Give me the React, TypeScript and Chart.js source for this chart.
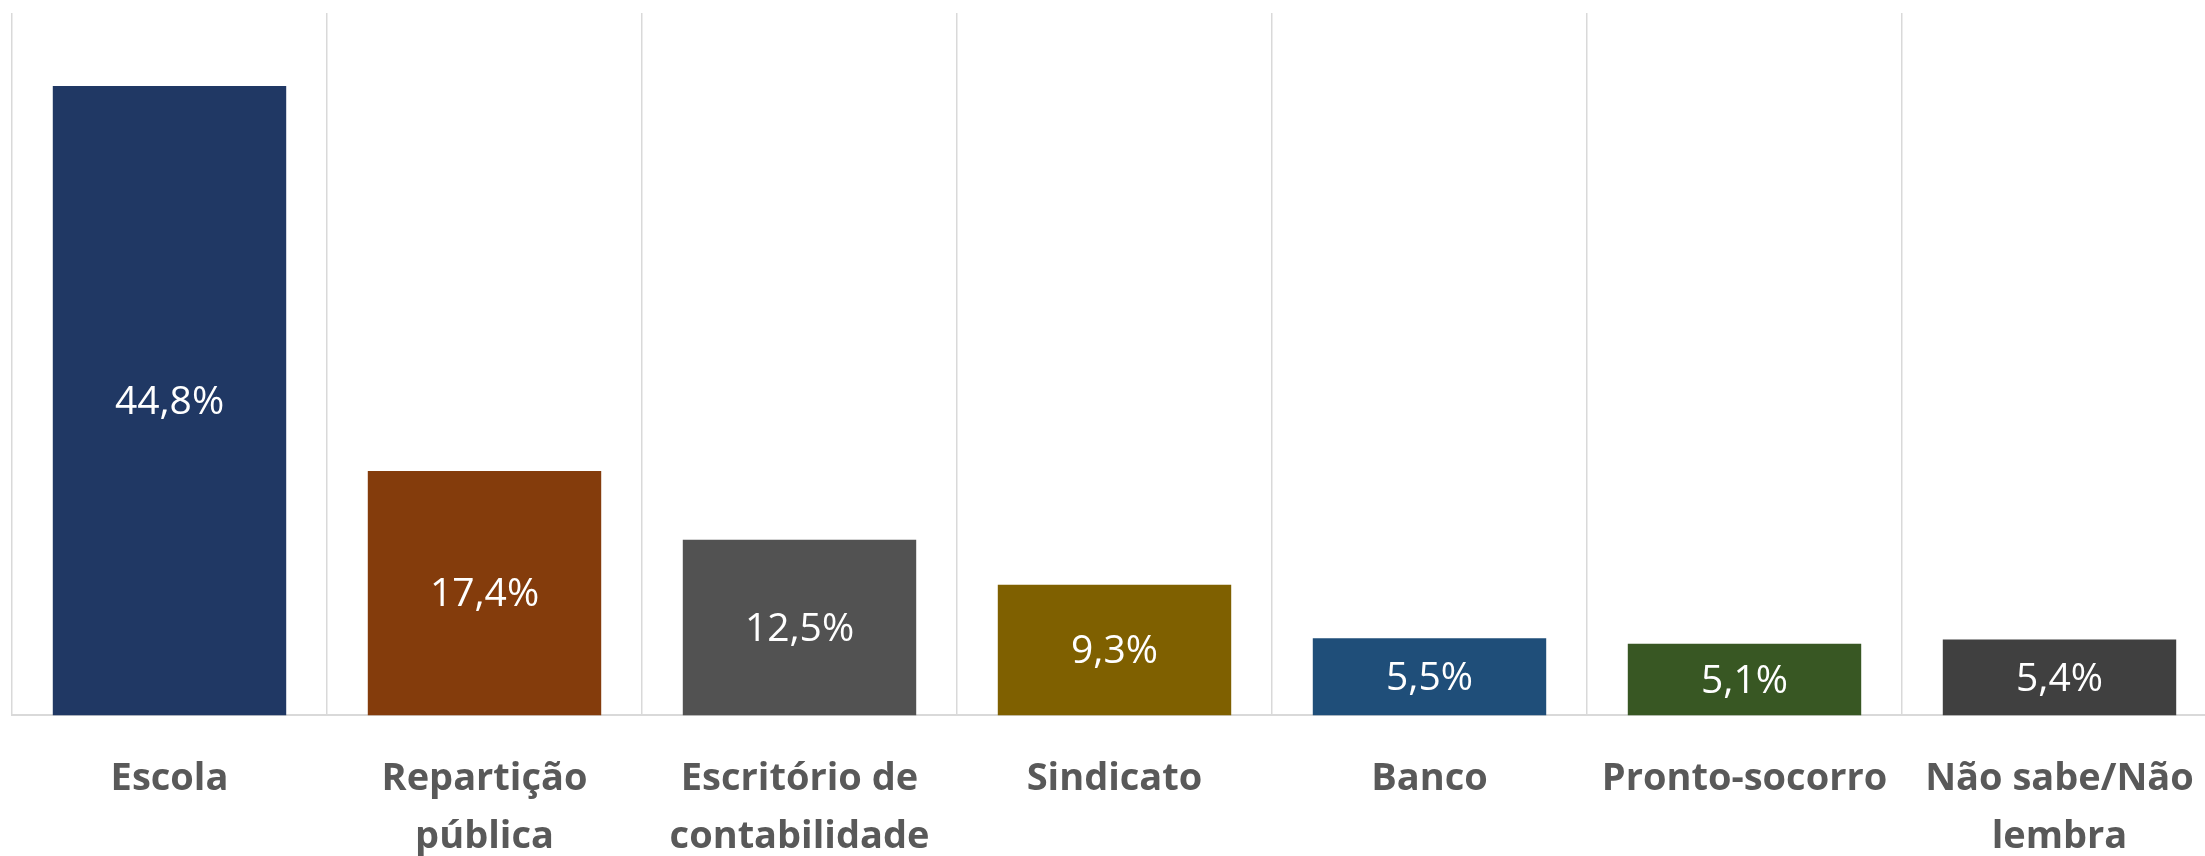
import React, { useEffect, useRef } from "react";
import { Chart, registerables } from "chart.js";

Chart.register(...registerables);

const categories: string[][] = [
  ["Escola"],
  ["Repartição", "pública"],
  ["Escritório de", "contabilidade"],
  ["Sindicato"],
  ["Banco"],
  ["Pronto-socorro"],
  ["Não sabe/Não", "lembra"],
];
const values: number[] = [44.8, 17.4, 12.5, 9.3, 5.5, 5.1, 5.4];
const barColors: string[] = ["#203864", "#843C0C", "#525252", "#7F6000", "#1F4E79", "#385723", "#404040"];
const valueLabels: string[] = ["44,8%", "17,4%", "12,5%", "9,3%", "5,5%", "5,1%", "5,4%"];

const FONT = "'Open Sans', 'Noto Sans', sans-serif";

const centerLabels = {
  id: "centerLabels",
  afterDatasetsDraw(chart: any) {
    const ctx = chart.ctx;
    const meta = chart.getDatasetMeta(0);
    ctx.save();
    ctx.fillStyle = "#FFFFFF";
    ctx.font = `400 39px ${FONT}`;
    ctx.textAlign = "center";
    ctx.textBaseline = "middle";
    meta.data.forEach((el: any, i: number) => {
      const p = el.getProps(["x", "y", "base"], true);
      ctx.fillText(valueLabels[i], p.x, (p.y + p.base) / 2 + 2);
    });
    ctx.restore();
  },
};

export default function App() {
  const ref = useRef<HTMLCanvasElement | null>(null);
  useEffect(() => {
    if (!ref.current) return;
    const chart = new Chart(ref.current, {
      type: "bar",
      data: {
        labels: categories,
        datasets: [
          {
            data: values,
            backgroundColor: barColors,
            borderWidth: 0,
            categoryPercentage: 1,
            barPercentage: 0.741,
          },
        ],
      },
      options: {
        responsive: false,
        animation: false,
        layout: { padding: { left: 12, right: 13, top: 13, bottom: 36 } },
        plugins: { legend: { display: false }, tooltip: { enabled: false } },
        scales: {
          x: {
            grid: { display: true, color: "#D9D9D9", lineWidth: 1.5, drawTicks: false, offset: true },
            border: { display: true, color: "#D9D9D9", width: 2 },
            ticks: {
              color: "#595959",
              font: { family: FONT, size: 38, weight: "bold", lineHeight: 1.52 },
              padding: 35,
              maxRotation: 0,
              minRotation: 0,
              autoSkip: false,
            },
          },
          y: { display: false, min: 0, max: 50 },
        },
      },
      plugins: [centerLabels],
    });
    return () => chart.destroy();
  }, []);
  return (
    <div style={{ position: "fixed", left: 0, top: 0, width: 2205, height: 856, overflow: "hidden", background: "#fff" }}>
      <canvas ref={ref} width={2230} height={937} style={{ display: "block" }} />
    </div>
  );
}
